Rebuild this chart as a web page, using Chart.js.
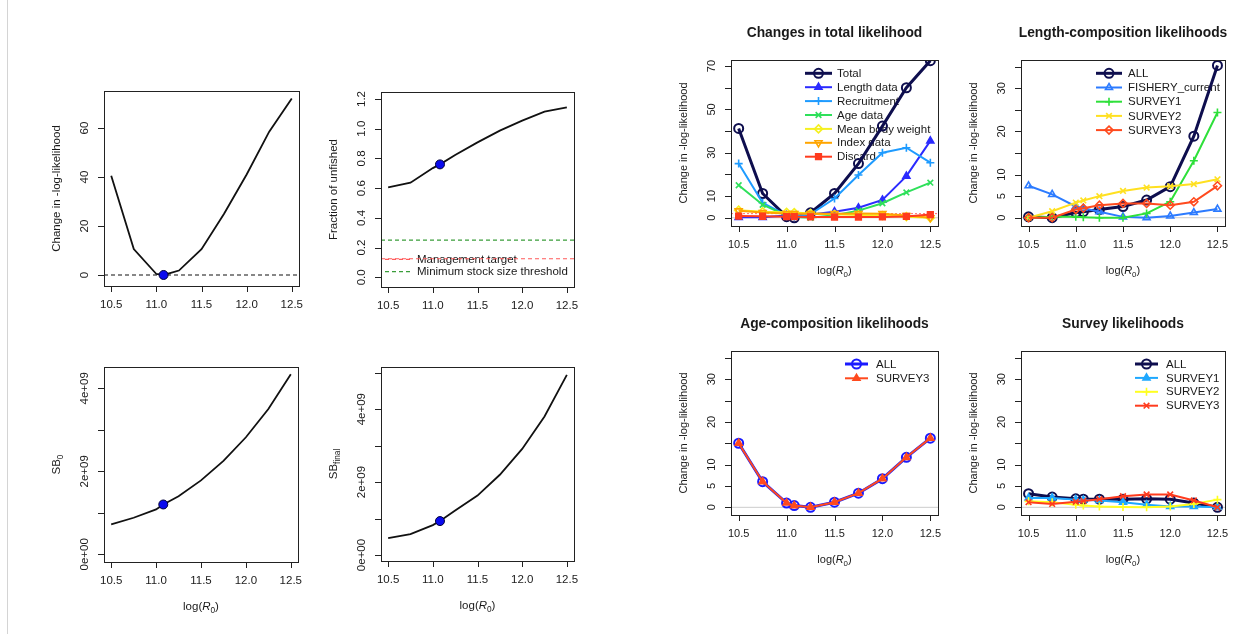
<!DOCTYPE html>
<html><head><meta charset="utf-8">
<script src="https://cdn.jsdelivr.net/npm/chart.js@4/dist/chart.umd.min.js"></script>
<style>
html,body{margin:0;padding:0;background:#fff;}
#wrap{position:relative;width:1233px;height:634px;overflow:hidden;background:#fff;}
#wrap canvas{position:absolute;}
#edge{position:absolute;left:7px;top:0;width:1px;height:634px;background:#d4d4d4;}
</style></head><body><div id="wrap"><div id="edge"></div></div>
<script>
// ---------------- DATA ----------------
const logR0 = [10.5, 10.75, 11.0, 11.08, 11.25, 11.5, 11.75, 12.0, 12.25, 12.5];
const mleIndex = 3;
const xTickVals = [10.5, 11.0, 11.5, 12.0, 12.5];
const xTickLabels = ['10.5', '11.0', '11.5', '12.0', '12.5'];

// left panels
const changeNLL = [40.5, 10.6, 0.4, 0.0, 1.8, 10.5, 25.0, 41.0, 58.5, 72.0];
const nllYTicks = [0, 20, 40, 60];
const nllYLabels = ['0', '20', '40', '60'];

const fracUnfished = [0.606, 0.637, 0.735, 0.760, 0.823, 0.908, 0.987, 1.054, 1.115, 1.144];
const mgmtTarget = 0.125;
const minStockThreshold = 0.25;
const fracYTicks = [0, 0.2, 0.4, 0.6, 0.8, 1.0, 1.2];
const fracYLabels = ['0.0', '0.2', '0.4', '0.6', '0.8', '1.0', '1.2'];

const sb0 = [0.72e9, 0.88e9, 1.08e9, 1.20e9, 1.40e9, 1.78e9, 2.25e9, 2.82e9, 3.50e9, 4.34e9];
const sb0YTicks = [0, 1e9, 2e9, 3e9, 4e9];
const sb0YLabels = ['0e+00', '', '2e+09', '', '4e+09'];

const sbFinal = [0.46e9, 0.57e9, 0.82e9, 0.93e9, 1.22e9, 1.63e9, 2.20e9, 2.91e9, 3.80e9, 4.94e9];
const sbFinalYTicks = [0, 1e9, 2e9, 3e9, 4e9, 5e9];
const sbFinalYLabels = ['0e+00', '', '2e+09', '', '4e+09', ''];

// Changes in total likelihood
const totalLike   = [41.2, 11.2, 0.5, 0.0, 2.3, 11.2, 25.0, 42.3, 60.0, 72.5];
const lengthLike  = [0.2, 0.2, 1.0, 0.8, 1.5, 2.8, 4.6, 8.2, 19.2, 35.5];
const recruitLike = [25.0, 6.9, 1.2, 0.5, 1.7, 8.9, 19.7, 30.0, 32.3, 25.4];
const ageLike     = [15.0, 6.0, 1.0, 0.4, 0.0, 1.2, 3.3, 6.7, 11.7, 16.2];
const bodyWtLike  = [3.5, 2.8, 2.5, 2.4, 2.0, 1.6, 1.3, 1.0, 0.5, 0.0];
const indexLike   = [3.2, 2.4, 2.0, 1.9, 1.9, 1.9, 2.0, 1.9, 1.0, 0.0];
const discardLike = [0.8, 0.7, 0.5, 0.5, 0.4, 0.3, 0.3, 0.4, 0.6, 1.5];
const chiThreshold = 1.92;
const totYTicks = [0, 10, 20, 30, 40, 50, 60, 70];
const totYLabels = ['0', '10', '', '30', '', '50', '', '70'];

// Length-composition likelihoods
const lenAll     = [0.2, 0.0, 1.2, 1.4, 1.9, 2.6, 4.1, 7.2, 18.9, 35.3];
const lenFishery = [7.4, 5.4, 2.6, 2.2, 1.4, 0.2, 0.0, 0.4, 1.2, 2.0];
const lenSurvey1 = [0.0, 0.2, 0.2, 0.1, 0.0, 0.0, 1.0, 3.7, 13.2, 24.4];
const lenSurvey2 = [0.0, 1.5, 3.5, 4.0, 5.0, 6.2, 7.0, 7.3, 7.8, 8.9];
const lenSurvey3 = [0.0, 0.0, 1.9, 2.2, 2.9, 3.3, 3.3, 2.9, 3.7, 7.4];

// Age-composition likelihoods
const ageAll     = [15.0, 6.0, 1.0, 0.4, 0.0, 1.2, 3.3, 6.7, 11.7, 16.2];
const ageSurvey3 = [15.0, 6.0, 1.0, 0.4, 0.0, 1.2, 3.3, 6.7, 11.7, 16.2];

// Survey likelihoods
const survAll     = [3.2, 2.4, 2.0, 1.9, 1.9, 1.9, 2.0, 1.9, 1.0, 0.0];
const survSurvey1 = [2.2, 2.2, 1.8, 1.7, 1.6, 1.2, 0.6, 0.2, 0.2, 0.0];
const survSurvey2 = [1.4, 1.2, 0.6, 0.4, 0.2, 0.1, 0.0, 0.2, 0.8, 1.8];
const survSurvey3 = [1.2, 0.8, 1.3, 1.5, 1.9, 2.6, 3.0, 3.0, 1.6, 0.0];

const compYTicks = [0, 5, 10, 15, 20, 25, 30, 35];
const compYLabels = ['0', '5', '10', '', '20', '', '30', ''];

// ---------------- HELPERS ----------------
const FONT = '"Liberation Sans", Arial, Helvetica, sans-serif';
const TXT = '#1a1a1a';
const XR = [10.42, 12.58];

function pts(ys) { return logR0.map((x, i) => ({x: x, y: ys[i]})); }
function hline(y, color, dash, w) {
  return {data: [{x: XR[0], y: y}, {x: XR[1], y: y}], borderColor: color, borderWidth: w || 1,
          borderDash: dash || [], pointRadius: 0, fill: false, order: 100};
}
function curve(ys, color, w) {
  return {data: pts(ys), borderColor: color, borderWidth: w, pointRadius: 0, fill: false, order: 50};
}
function mleDot(ys) {
  return {data: [{x: logR0[mleIndex], y: ys[mleIndex]}], showLine: false, pointRadius: 4.5,
          pointBackgroundColor: '#0a0aee', pointBorderColor: '#00003a', pointBorderWidth: 1, order: 1};
}
const styleMap = {circle: ['circle', 0], triangle: ['triangle', 0], triangleDown: ['triangle', 180],
  plus: ['cross', 0], x: ['crossRot', 0], diamond: ['rectRot', 0], square: ['rect', 0]};
function series(ys, it, ord) {
  const sm = styleMap[it.style];
  return {data: pts(ys), borderColor: it.color, borderWidth: it.lw, fill: false,
    pointStyle: sm[0], pointRotation: sm[1], pointRadius: it.r || 4,
    pointBorderColor: it.color, pointBorderWidth: it.pw || 1.6,
    pointBackgroundColor: it.fill ? it.color : 'rgba(0,0,0,0)', order: ord};
}

function drawMarker(ctx, it, x, y) {
  const r = it.r || 4;
  ctx.save();
  ctx.strokeStyle = it.color; ctx.fillStyle = it.color; ctx.lineWidth = it.pw || 1.6;
  ctx.setLineDash([]);
  ctx.beginPath();
  switch (it.style) {
    case 'circle': ctx.arc(x, y, r, 0, Math.PI * 2); ctx.stroke(); break;
    case 'triangle':
      ctx.moveTo(x, y - r); ctx.lineTo(x + r * 0.87, y + r * 0.5); ctx.lineTo(x - r * 0.87, y + r * 0.5); ctx.closePath();
      if (it.fill) ctx.fill(); ctx.stroke(); break;
    case 'triangleDown':
      ctx.moveTo(x, y + r); ctx.lineTo(x + r * 0.87, y - r * 0.5); ctx.lineTo(x - r * 0.87, y - r * 0.5); ctx.closePath();
      if (it.fill) ctx.fill(); ctx.stroke(); break;
    case 'plus': ctx.moveTo(x - r, y); ctx.lineTo(x + r, y); ctx.moveTo(x, y - r); ctx.lineTo(x, y + r); ctx.stroke(); break;
    case 'x': { const d = r * 0.707; ctx.moveTo(x - d, y - d); ctx.lineTo(x + d, y + d); ctx.moveTo(x + d, y - d); ctx.lineTo(x - d, y + d); ctx.stroke(); break; }
    case 'diamond': ctx.moveTo(x, y - r); ctx.lineTo(x + r, y); ctx.lineTo(x, y + r); ctx.lineTo(x - r, y); ctx.closePath();
      if (it.fill) ctx.fill(); ctx.stroke(); break;
    case 'square': { const d = r * 0.707; ctx.rect(x - d, y - d, 2 * d, 2 * d); ctx.fill(); ctx.stroke(); break; }
  }
  ctx.restore();
}

// rich text: parts = [{t, it, sub}]
function drawRich(ctx, parts, cx, cy, size) {
  const fonts = parts.map(p => (p.it ? 'italic ' : '') + (p.sub ? size * 0.72 : size) + 'px ' + FONT);
  let total = 0; const ws = [];
  parts.forEach((p, i) => { ctx.font = fonts[i]; const w = ctx.measureText(p.t).width; ws.push(w); total += w; });
  let x = cx - total / 2;
  ctx.textAlign = 'left'; ctx.textBaseline = 'middle';
  parts.forEach((p, i) => { ctx.font = fonts[i]; ctx.fillText(p.t, x, cy + (p.sub ? size * 0.32 : 0)); x += ws[i]; });
}
const LOGR0 = [{t: 'log('}, {t: 'R', it: true}, {t: '0', sub: true}, {t: ')'}];

function framePlugin(p) {
  return {
    id: 'rframe',
    beforeDatasetsDraw(chart) {
      if (!p.legend) return;
      const ctx = chart.ctx, a = chart.chartArea, L = p.legend;
      ctx.save();
      L.items.forEach((it, i) => {
        const y = (L.fromBottom ? a.bottom - L.y0 : a.top + L.y0) + i * L.dy;
        const x1 = (L.fromLeft ? a.left + L.x1 : a.right - L.x1);
        const x2 = (L.fromLeft ? a.left + L.x2 : a.right - L.x2);
        const tx = (L.fromLeft ? a.left + L.tx : a.right - L.tx);
        ctx.strokeStyle = it.color; ctx.lineWidth = it.lw; ctx.setLineDash(it.dash || []);
        ctx.beginPath(); ctx.moveTo(x1, y); ctx.lineTo(x2, y); ctx.stroke();
        ctx.setLineDash([]);
        if (it.style) drawMarker(ctx, it, (x1 + x2) / 2, y);
        ctx.fillStyle = TXT; ctx.font = L.size + 'px ' + FONT;
        ctx.textAlign = 'left'; ctx.textBaseline = 'middle';
        ctx.fillText(it.label, tx, y + 0.5);
      });
      ctx.restore();
    },
    afterDraw(chart) {
      const ctx = chart.ctx, a = chart.chartArea, xs = chart.scales.x, ys = chart.scales.y;
      ctx.save();
      ctx.strokeStyle = '#222'; ctx.lineWidth = 1; ctx.setLineDash([]);
      ctx.strokeRect(Math.round(a.left) + 0.5, Math.round(a.top) + 0.5, Math.round(a.right - a.left), Math.round(a.bottom - a.top));
      const fs = p.fs;
      ctx.fillStyle = TXT;
      ctx.beginPath();
      xTickVals.forEach(v => { const x = Math.round(xs.getPixelForValue(v)) + 0.5; ctx.moveTo(x, a.bottom); ctx.lineTo(x, a.bottom + 6); });
      p.yTicks.forEach(v => { const y = Math.round(ys.getPixelForValue(v)) + 0.5; ctx.moveTo(a.left, y); ctx.lineTo(a.left - 6, y); });
      ctx.stroke();
      ctx.font = fs + 'px ' + FONT; ctx.textAlign = 'center'; ctx.textBaseline = 'middle';
      xTickVals.forEach((v, i) => ctx.fillText(xTickLabels[i], xs.getPixelForValue(v), a.bottom + 19));
      p.yTicks.forEach((v, i) => {
        if (!p.yLabels[i]) return;
        ctx.save(); ctx.translate(a.left - 19, ys.getPixelForValue(v)); ctx.rotate(-Math.PI / 2);
        ctx.fillText(p.yLabels[i], 0, 0); ctx.restore();
      });
      drawRich(ctx, LOGR0, (a.left + a.right) / 2, a.bottom + 45, fs);
      ctx.save(); ctx.translate(a.left - 47, (a.top + a.bottom) / 2); ctx.rotate(-Math.PI / 2);
      drawRich(ctx, p.yTitle, 0, 0, fs); ctx.restore();
      if (p.title) {
        ctx.font = 'bold 13.8px ' + FONT; ctx.textAlign = 'center'; ctx.textBaseline = 'middle';
        ctx.fillText(p.title, (a.left + a.right) / 2, a.top - 27);
      }
      ctx.restore();
    }
  };
}

function mkPanel(p) {
  const wrap = document.getElementById('wrap');
  const c = document.createElement('canvas');
  c.width = p.region.w; c.height = p.region.h;
  c.style.left = p.region.x + 'px'; c.style.top = p.region.y + 'px';
  c.style.width = p.region.w + 'px'; c.style.height = p.region.h + 'px';
  wrap.appendChild(c);
  const pad = {left: p.box.l - p.region.x, top: p.box.t - p.region.y,
               right: p.region.x + p.region.w - p.box.r, bottom: p.region.y + p.region.h - p.box.b};
  new Chart(c, {
    type: 'line',
    data: {datasets: p.datasets},
    options: {
      responsive: false, animation: false, devicePixelRatio: 1,
      layout: {padding: pad},
      plugins: {legend: {display: false}, tooltip: {enabled: false}},
      elements: {line: {tension: 0}},
      scales: {
        x: {type: 'linear', min: XR[0], max: XR[1], display: false},
        y: {type: 'linear', min: p.yr[0], max: p.yr[1], display: false}
      }
    },
    plugins: [framePlugin(p)]
  });
}

// ---------------- LEFT PANELS ----------------
const YT_NLL = [{t: 'Change in -log-likelihood'}];
mkPanel({region: {x: 10, y: 0, w: 310, h: 320}, box: {l: 104, t: 91, r: 299, b: 286},
  yr: [-4.5, 75.1], yTicks: nllYTicks, yLabels: nllYLabels, fs: 11.5, yTitle: YT_NLL,
  datasets: [hline(0, '#111', [4, 3], 1.2), curve(changeNLL, '#111', 1.8), mleDot(changeNLL)]});

mkPanel({region: {x: 320, y: 0, w: 330, h: 320}, box: {l: 381, t: 92, r: 574, b: 287},
  yr: [-0.065, 1.247], yTicks: fracYTicks, yLabels: fracYLabels, fs: 11.5, yTitle: [{t: 'Fraction of unfished'}],
  legend: {fromLeft: true, fromBottom: true, x1: 4, x2: 29, tx: 36, y0: 27.7, dy: 12.4, size: 11.5,
    items: [{label: 'Management target', color: '#ff5a5a', lw: 1.2, dash: [4, 3]},
            {label: 'Minimum stock size threshold', color: '#3a9d3a', lw: 1.2, dash: [4, 3]}]},
  datasets: [hline(mgmtTarget, '#ff5a5a', [4, 3], 1.2), hline(minStockThreshold, '#3a9d3a', [4, 3], 1.2),
             curve(fracUnfished, '#111', 1.8), mleDot(fracUnfished)]});

mkPanel({region: {x: 10, y: 320, w: 310, h: 314}, box: {l: 104, t: 367, r: 298, b: 562},
  yr: [-0.186e9, 4.513e9], yTicks: sb0YTicks, yLabels: sb0YLabels, fs: 11.5,
  yTitle: [{t: 'SB'}, {t: '0', sub: true}],
  datasets: [curve(sb0, '#111', 1.8), mleDot(sb0)]});

mkPanel({region: {x: 320, y: 320, w: 330, h: 314}, box: {l: 381, t: 367, r: 574, b: 561},
  yr: [-0.165e9, 5.156e9], yTicks: sbFinalYTicks, yLabels: sbFinalYLabels, fs: 11.5,
  yTitle: [{t: 'SB'}, {t: 'final', sub: true}],
  datasets: [curve(sbFinal, '#111', 1.8), mleDot(sbFinal)]});

// ---------------- RIGHT PANELS ----------------
const NAVY = '#0e0e4e';
const totItems = [
  {label: 'Total', color: NAVY, style: 'circle', lw: 3, pw: 2, r: 4.5},
  {label: 'Length data', color: '#2b2bff', style: 'triangle', lw: 2, fill: true},
  {label: 'Recruitment', color: '#1e9bff', style: 'plus', lw: 2},
  {label: 'Age data', color: '#2ee05a', style: 'x', lw: 2},
  {label: 'Mean body weight', color: '#f5f020', style: 'diamond', lw: 2},
  {label: 'Index data', color: '#ffa500', style: 'triangleDown', lw: 2},
  {label: 'Discard', color: '#ff3b1e', style: 'square', lw: 2, fill: true}
];
const totSeries = [totalLike, lengthLike, recruitLike, ageLike, bodyWtLike, indexLike, discardLike];
mkPanel({region: {x: 650, y: 0, w: 300, h: 300}, box: {l: 731, t: 60, r: 938, b: 226},
  yr: [-3.8, 72.8], yTicks: totYTicks, yLabels: totYLabels, fs: 11, yTitle: YT_NLL,
  title: 'Changes in total likelihood',
  legend: {x1: 133, x2: 106, tx: 101, y0: 13.3, dy: 13.9, size: 11.5, items: totItems},
  datasets: [hline(0, '#cccccc', [], 1), hline(chiThreshold, '#ff7070', [2, 2], 1)]
    .concat(totSeries.map((s, i) => series(s, totItems[i], 40 - i)))});

const lenItems = [
  {label: 'ALL', color: NAVY, style: 'circle', lw: 3, pw: 2, r: 4.5},
  {label: 'FISHERY_current', color: '#2c7bff', style: 'triangle', lw: 2},
  {label: 'SURVEY1', color: '#2ee03a', style: 'plus', lw: 2},
  {label: 'SURVEY2', color: '#ffe020', style: 'x', lw: 2},
  {label: 'SURVEY3', color: '#ff4a1e', style: 'diamond', lw: 2}
];
const lenSeries = [lenAll, lenFishery, lenSurvey1, lenSurvey2, lenSurvey3];
mkPanel({region: {x: 950, y: 0, w: 283, h: 300}, box: {l: 1021, t: 60, r: 1225, b: 226},
  yr: [-1.92, 36.57], yTicks: compYTicks, yLabels: compYLabels, fs: 11, yTitle: YT_NLL,
  title: 'Length-composition likelihoods',
  legend: {x1: 129, x2: 103, tx: 97, y0: 13.3, dy: 14.2, size: 11.5, items: lenItems},
  datasets: [hline(0, '#cccccc', [], 1)].concat(lenSeries.map((s, i) => series(s, lenItems[i], 40 - i)))});

const ageItems = [
  {label: 'ALL', color: '#1a1aff', style: 'circle', lw: 3, pw: 2, r: 4.5},
  {label: 'SURVEY3', color: '#ff4a1e', style: 'triangle', lw: 2, fill: true}
];
const ageSeries = [ageAll, ageSurvey3];
mkPanel({region: {x: 650, y: 300, w: 300, h: 334}, box: {l: 731, t: 351, r: 938, b: 515},
  yr: [-1.8, 36.6], yTicks: compYTicks, yLabels: compYLabels, fs: 11, yTitle: YT_NLL,
  title: 'Age-composition likelihoods',
  legend: {x1: 93, x2: 70, tx: 62, y0: 13, dy: 14.3, size: 11.5, items: ageItems},
  datasets: [hline(0, '#cccccc', [], 1)].concat(ageSeries.map((s, i) => series(s, ageItems[i], 40 - i)))});

const survItems = [
  {label: 'ALL', color: NAVY, style: 'circle', lw: 3, pw: 2, r: 4.5},
  {label: 'SURVEY1', color: '#1ea8ff', style: 'triangle', lw: 2, fill: true},
  {label: 'SURVEY2', color: '#ffff20', style: 'plus', lw: 2},
  {label: 'SURVEY3', color: '#ff3b1e', style: 'x', lw: 2}
];
const survSeries = [survAll, survSurvey1, survSurvey2, survSurvey3];
mkPanel({region: {x: 950, y: 300, w: 283, h: 334}, box: {l: 1021, t: 351, r: 1225, b: 515},
  yr: [-1.8, 36.6], yTicks: compYTicks, yLabels: compYLabels, fs: 11, yTitle: YT_NLL,
  title: 'Survey likelihoods',
  legend: {x1: 90, x2: 67, tx: 59, y0: 13, dy: 13.9, size: 11.5, items: survItems},
  datasets: [hline(0, '#cccccc', [], 1)].concat(survSeries.map((s, i) => series(s, survItems[i], 40 - i)))});
</script>
</body></html>
